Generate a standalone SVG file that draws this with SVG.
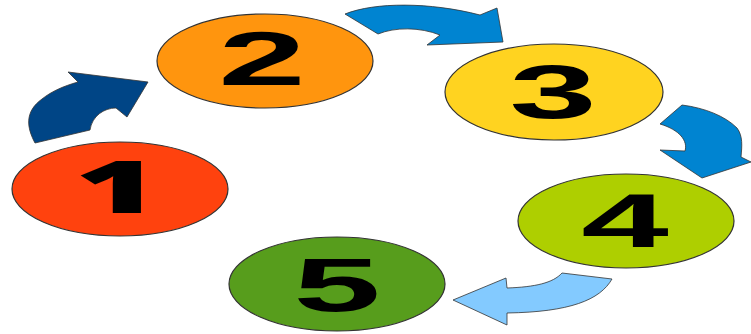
<svg xmlns="http://www.w3.org/2000/svg" width="751" height="334" viewBox="0 0 751 334">
<style>
.node{stroke:#333;stroke-width:1.2}
.num{font-family:"Liberation Sans",Arial,sans-serif;font-weight:bold;font-size:75px;fill:#000;text-anchor:middle}
.arr{stroke:#333;stroke-width:0.8;stroke-linejoin:miter}
</style>
<rect width="751" height="334" fill="#fff"/>
<g id="connectors">
<path id="a12" class="arr" fill="#004586" d="M35,143 C27,128 24,112 42,99 C52,91 64,86 78,82 L68,72 L148,82 L127,117 L116,108 C104,108 92,116 90,130 Z"/>
<path id="a23" class="arr" fill="#0084d1" d="M345,14 C375,2 430,2 480,15 L497,8 L503,42 L427,45 L440,35 C420,27 395,27 378,34 Z"/>
<path id="a34" class="arr" fill="#0084d1" d="M660,124 L682,105 C705,108 725,116 737,128 C743,136 742,146 741,157 L751,162 L702,178 L660,150 L685,151 C688,141 680,130 660,124 Z"/>
<path id="a45" class="arr" fill="#83caff" d="M562,273 L612,279 C600,300 570,312 507,313 L507,325 L453,300 L506,278 L507,288 C535,287 553,283 562,273 Z"/>
</g>
<g id="n1"><ellipse class="node" cx="120" cy="189" rx="108" ry="47" fill="#ff420e"/><text class="num" style="font-family:'Open Sans','Noto Sans',sans-serif;font-weight:800;font-size:72px" transform="translate(117,213) scale(2.0,1)">1</text></g>
<g id="n2"><ellipse class="node" cx="265" cy="61" rx="108" ry="47" fill="#ff950e"/><text class="num" transform="translate(262,85) scale(2.1,1)">2</text></g>
<g id="n3"><ellipse class="node" cx="554" cy="92" rx="109" ry="48" fill="#ffd320"/><text class="num" transform="translate(553,118) scale(2.1,1)">3</text></g>
<g id="n4"><ellipse class="node" cx="626" cy="221" rx="108" ry="47" fill="#aecf00"/><text class="num" transform="translate(625,247) scale(2.1,1)">4</text></g>
<g id="n5"><ellipse class="node" cx="337" cy="284" rx="108" ry="47" fill="#579d1c"/><text class="num" transform="translate(337,311) scale(2.1,1)">5</text></g>
</svg>
